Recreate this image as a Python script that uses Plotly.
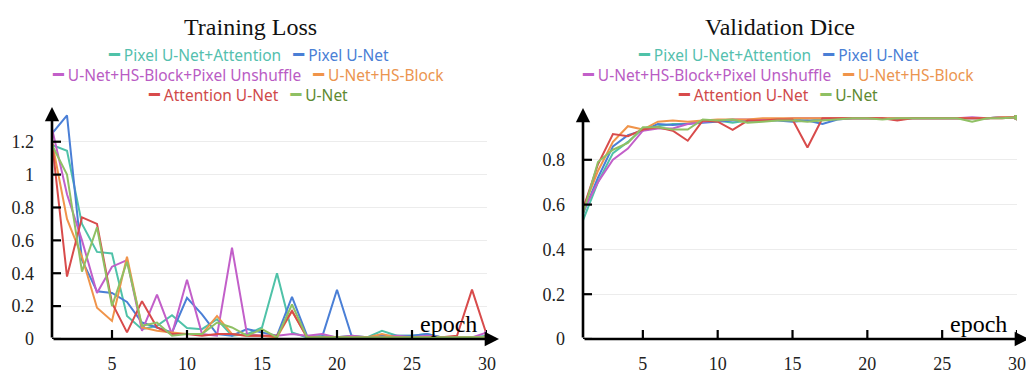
import plotly.graph_objects as go

epochs = list(range(1, 31))

series_names = ["Pixel U-Net+Attention", "Pixel U-Net", "U-Net+HS-Block+Pixel Unshuffle",
                "U-Net+HS-Block", "Attention U-Net", "U-Net"]
line_colors = ["#4fc2a8", "#4a7fd6", "#c25fc9", "#f0944a", "#d84b4b", "#8fc064"]
text_colors = ["#55bfae", "#4a7fd6", "#b95cc4", "#eb9550", "#cf4a4a", "#5e8a32"]

loss_pixel_unet_att = [1.18, 1.145, 0.70, 0.53, 0.52, 0.14, 0.06, 0.08, 0.145, 0.067, 0.06, 0.12, 0.02, 0.03, 0.07,
                       0.40, 0.04, 0.01, 0.02, 0.01, 0.02, 0.01, 0.05, 0.02, 0.02, 0.03, 0.01, 0.01, 0.01, 0.02]
loss_pixel_unet = [1.25, 1.36, 0.48, 0.29, 0.28, 0.225, 0.10, 0.07, 0.04, 0.25, 0.15, 0.03, 0.02, 0.06, 0.04,
                   0.02, 0.256, 0.02, 0.01, 0.30, 0.01, 0.01, 0.02, 0.02, 0.02, 0.03, 0.01, 0.01, 0.01, 0.01]
loss_hs_unshuffle = [1.28, 0.88, 0.60, 0.28, 0.44, 0.48, 0.05, 0.27, 0.03, 0.36, 0.03, 0.02, 0.555, 0.03, 0.02,
                     0.02, 0.03, 0.02, 0.03, 0.01, 0.02, 0.01, 0.01, 0.02, 0.01, 0.02, 0.01, 0.01, 0.01, 0.04]
loss_hs_block = [1.20, 0.73, 0.50, 0.19, 0.11, 0.50, 0.07, 0.05, 0.04, 0.03, 0.03, 0.14, 0.03, 0.02, 0.02,
                 0.01, 0.17, 0.01, 0.01, 0.01, 0.01, 0.01, 0.03, 0.01, 0.01, 0.01, 0.01, 0.01, 0.01, 0.01]
loss_att_unet = [1.20, 0.38, 0.74, 0.70, 0.22, 0.04, 0.23, 0.07, 0.03, 0.03, 0.02, 0.03, 0.03, 0.02, 0.02,
                 0.02, 0.17, 0.01, 0.01, 0.01, 0.01, 0.01, 0.01, 0.01, 0.01, 0.01, 0.01, 0.02, 0.30, 0.02]
loss_unet = [1.18, 1.00, 0.41, 0.68, 0.20, 0.47, 0.08, 0.10, 0.02, 0.03, 0.03, 0.10, 0.07, 0.02, 0.06,
             0.01, 0.21, 0.01, 0.01, 0.01, 0.01, 0.01, 0.01, 0.01, 0.01, 0.01, 0.01, 0.01, 0.01, 0.01]

dice_pixel_unet_att = [0.53, 0.70, 0.83, 0.88, 0.94, 0.95, 0.96, 0.96, 0.975, 0.975, 0.965, 0.975, 0.975, 0.98, 0.98,
                       0.975, 0.98, 0.985, 0.985, 0.985, 0.985, 0.985, 0.985, 0.985, 0.985, 0.985, 0.985, 0.985, 0.99, 0.99]
dice_pixel_unet = [0.56, 0.72, 0.86, 0.91, 0.93, 0.96, 0.955, 0.96, 0.965, 0.97, 0.975, 0.975, 0.975, 0.975, 0.97,
                   0.975, 0.96, 0.98, 0.985, 0.985, 0.985, 0.98, 0.985, 0.985, 0.985, 0.985, 0.985, 0.985, 0.99, 0.99]
dice_hs_unshuffle = [0.57, 0.70, 0.80, 0.85, 0.93, 0.94, 0.94, 0.96, 0.97, 0.975, 0.98, 0.98, 0.98, 0.98, 0.985,
                     0.985, 0.985, 0.985, 0.985, 0.985, 0.985, 0.985, 0.985, 0.985, 0.985, 0.985, 0.99, 0.985, 0.99, 0.99]
dice_hs_block = [0.58, 0.75, 0.88, 0.95, 0.935, 0.97, 0.975, 0.97, 0.975, 0.98, 0.98, 0.98, 0.985, 0.985, 0.985,
                 0.985, 0.985, 0.985, 0.985, 0.985, 0.985, 0.985, 0.985, 0.985, 0.985, 0.985, 0.985, 0.985, 0.99, 0.99]
dice_att_unet = [0.58, 0.78, 0.915, 0.905, 0.935, 0.945, 0.93, 0.885, 0.975, 0.97, 0.934, 0.975, 0.975, 0.98, 0.98,
                 0.855, 0.985, 0.985, 0.985, 0.985, 0.985, 0.975, 0.985, 0.985, 0.985, 0.985, 0.985, 0.985, 0.985, 0.99]
dice_unet = [0.56, 0.79, 0.845, 0.875, 0.945, 0.945, 0.935, 0.935, 0.98, 0.975, 0.98, 0.965, 0.97, 0.975, 0.975,
             0.97, 0.975, 0.98, 0.985, 0.985, 0.98, 0.985, 0.985, 0.985, 0.985, 0.985, 0.97, 0.985, 0.985, 0.99]

loss_series = [loss_pixel_unet_att, loss_pixel_unet, loss_hs_unshuffle, loss_hs_block, loss_att_unet, loss_unet]
dice_series = [dice_pixel_unet_att, dice_pixel_unet, dice_hs_unshuffle, dice_hs_block, dice_att_unet, dice_unet]

x_ticks = [5, 10, 15, 20, 25, 30]
loss_ticks = [0, 0.2, 0.4, 0.6, 0.8, 1.0, 1.2]
loss_tick_text = ["0", "0.2", "0.4", "0.6", "0.8", "1", "1.2"]
dice_ticks = [0, 0.2, 0.4, 0.6, 0.8]
dice_tick_text = ["0", "0.2", "0.4", "0.6", "0.8"]

W, H = 1026, 376
SERIF = "Liberation Serif"
SANS = "Noto Sans"
TICKFONT = dict(family=SERIF, size=18, color="#222222")

fig = go.Figure()
for name, col, ys in zip(series_names, line_colors, loss_series):
    fig.add_trace(go.Scatter(x=epochs, y=ys, mode="lines", name=name, xaxis="x", yaxis="y",
                             line=dict(color=col, width=2), showlegend=False))
for name, col, ys in zip(series_names, line_colors, dice_series):
    fig.add_trace(go.Scatter(x=epochs, y=ys, mode="lines", name=name, xaxis="x2", yaxis="y2",
                             line=dict(color=col, width=2), showlegend=False))
for name, col, ys in zip(series_names, line_colors, loss_series):
    fig.add_trace(go.Scatter(x=epochs[-1:], y=ys[-1:], mode="markers", xaxis="x", yaxis="y",
                             marker=dict(color=col, size=5), showlegend=False, hoverinfo="skip"))
for name, col, ys in zip(series_names, line_colors, dice_series):
    fig.add_trace(go.Scatter(x=epochs[-1:], y=ys[-1:], mode="markers", xaxis="x2", yaxis="y2",
                             marker=dict(color=col, size=6), showlegend=False, hoverinfo="skip"))


def px_x(p):
    return p / W


def px_y(p):
    return (H - p) / H


left_x0, left_x1 = 52, 487
right_x0, right_x1 = 583, 1017
bottom = 339
left_top = 114
right_top = 115
loss_max = (bottom - left_top) / 164.4
dice_max = 1.0

xaxis_style = dict(showline=False, zeroline=False, ticks="", ticklabelstandoff=12,
                   tickfont=TICKFONT, showgrid=False, range=[1, 30], tickvals=x_ticks,
                   automargin=False)
yaxis_style = dict(showline=False, zeroline=False, ticks="", ticklabelstandoff=17,
                   tickfont=TICKFONT, showgrid=True, gridcolor="#ececec", gridwidth=1,
                   automargin=False)

fig.update_layout(
    width=W, height=H,
    font=dict(family=SERIF, size=18, color="#222222"),
    margin=dict(l=0, r=0, t=0, b=0),
    paper_bgcolor="white", plot_bgcolor="white",
    xaxis=dict(domain=[px_x(left_x0), px_x(left_x1)], anchor="y", **xaxis_style),
    yaxis=dict(domain=[px_y(bottom), px_y(left_top)], range=[0, loss_max], anchor="x",
               tickvals=loss_ticks, ticktext=loss_tick_text, **yaxis_style),
    xaxis2=dict(domain=[px_x(right_x0), px_x(right_x1)], anchor="y2", **xaxis_style),
    yaxis2=dict(domain=[px_y(bottom), px_y(right_top)], range=[0, dice_max], anchor="x2",
                tickvals=dice_ticks, ticktext=dice_tick_text, **yaxis_style),
)

annotations = []
shapes = []

per_px_x = 29 / 435.0
for xr, yr in [("x", "y"), ("x2", "y2")]:
    annotations.append(dict(xref=xr, yref=yr, axref=xr, ayref=yr, x=30 + 12 * per_px_x, y=0,
                            ax=1, ay=0, text="", showarrow=True, arrowhead=2,
                            arrowsize=1.1, arrowwidth=2.6, arrowcolor="black", standoff=0))
for xr, yr, ymax, ppu in [("x", "y", loss_max, 164.4), ("x2", "y2", dice_max, 223.75)]:
    annotations.append(dict(xref=xr, yref=yr, axref=xr, ayref=yr, x=1, y=ymax + 7 / ppu,
                            ax=1, ay=0, text="", showarrow=True, arrowhead=2,
                            arrowsize=1.1, arrowwidth=2.6, arrowcolor="black", standoff=0))

for xr, yr, yt in [("x", "y", loss_ticks), ("x2", "y2", dice_ticks)]:
    for v in x_ticks:
        shapes.append(dict(type="line", xref=xr, yref=yr, ysizemode="pixel", yanchor=0,
                           x0=v, x1=v, y0=-9, y1=9, line=dict(color="black", width=2.2)))
    for v in yt:
        shapes.append(dict(type="line", xref=xr, yref=yr, xsizemode="pixel", xanchor=1,
                           x0=-9, x1=9, y0=v, y1=v, line=dict(color="black", width=2.2)))
    shapes.append(dict(type="line", xref=xr, yref=yr, xsizemode="pixel", xanchor=1,
                       x0=-9, x1=2, y0=0, y1=0, line=dict(color="black", width=2.6)))

for xr, yr in [("x", "y"), ("x2", "y2")]:
    annotations.append(dict(xref=xr, yref=yr, x=30, y=0, xanchor="right", yanchor="bottom",
                            xshift=-8, yshift=0, text="epoch", showarrow=False,
                            font=dict(family=SERIF, size=24, color="black")))

annotations.append(dict(xref="paper", yref="paper", x=px_x(250), y=px_y(27), text="Training Loss",
                        showarrow=False, xanchor="center", yanchor="middle",
                        font=dict(family=SERIF, size=24, color="#111111")))
annotations.append(dict(xref="paper", yref="paper", x=px_x(780), y=px_y(27), text="Validation Dice",
                        showarrow=False, xanchor="center", yanchor="middle",
                        font=dict(family=SERIF, size=24, color="#111111")))

rows = [(0, 1), (2, 3), (4, 5)]
row_y = [55, 75, 95]


def item(i):
    return (f"<span style='color:{line_colors[i]};font-family:DejaVu Sans;font-size:18px'>━</span>"
            f"<span style='color:{text_colors[i]}'> {series_names[i]}</span>")


for cx in [248, 778]:
    for (a, b), ry in zip(rows, row_y):
        annotations.append(dict(xref="paper", yref="paper", x=px_x(cx), y=px_y(ry),
                                text=item(a) + "&nbsp;&nbsp;&nbsp;" + item(b), showarrow=False,
                                xanchor="center", yanchor="middle",
                                font=dict(family=SANS, size=15.5)))

fig.update_layout(annotations=annotations, shapes=shapes)
fig.write_html("out.html", config={"displayModeBar": False, "staticPlot": True},
               post_script="document.body.style.margin='0';document.body.style.overflow='hidden';")
